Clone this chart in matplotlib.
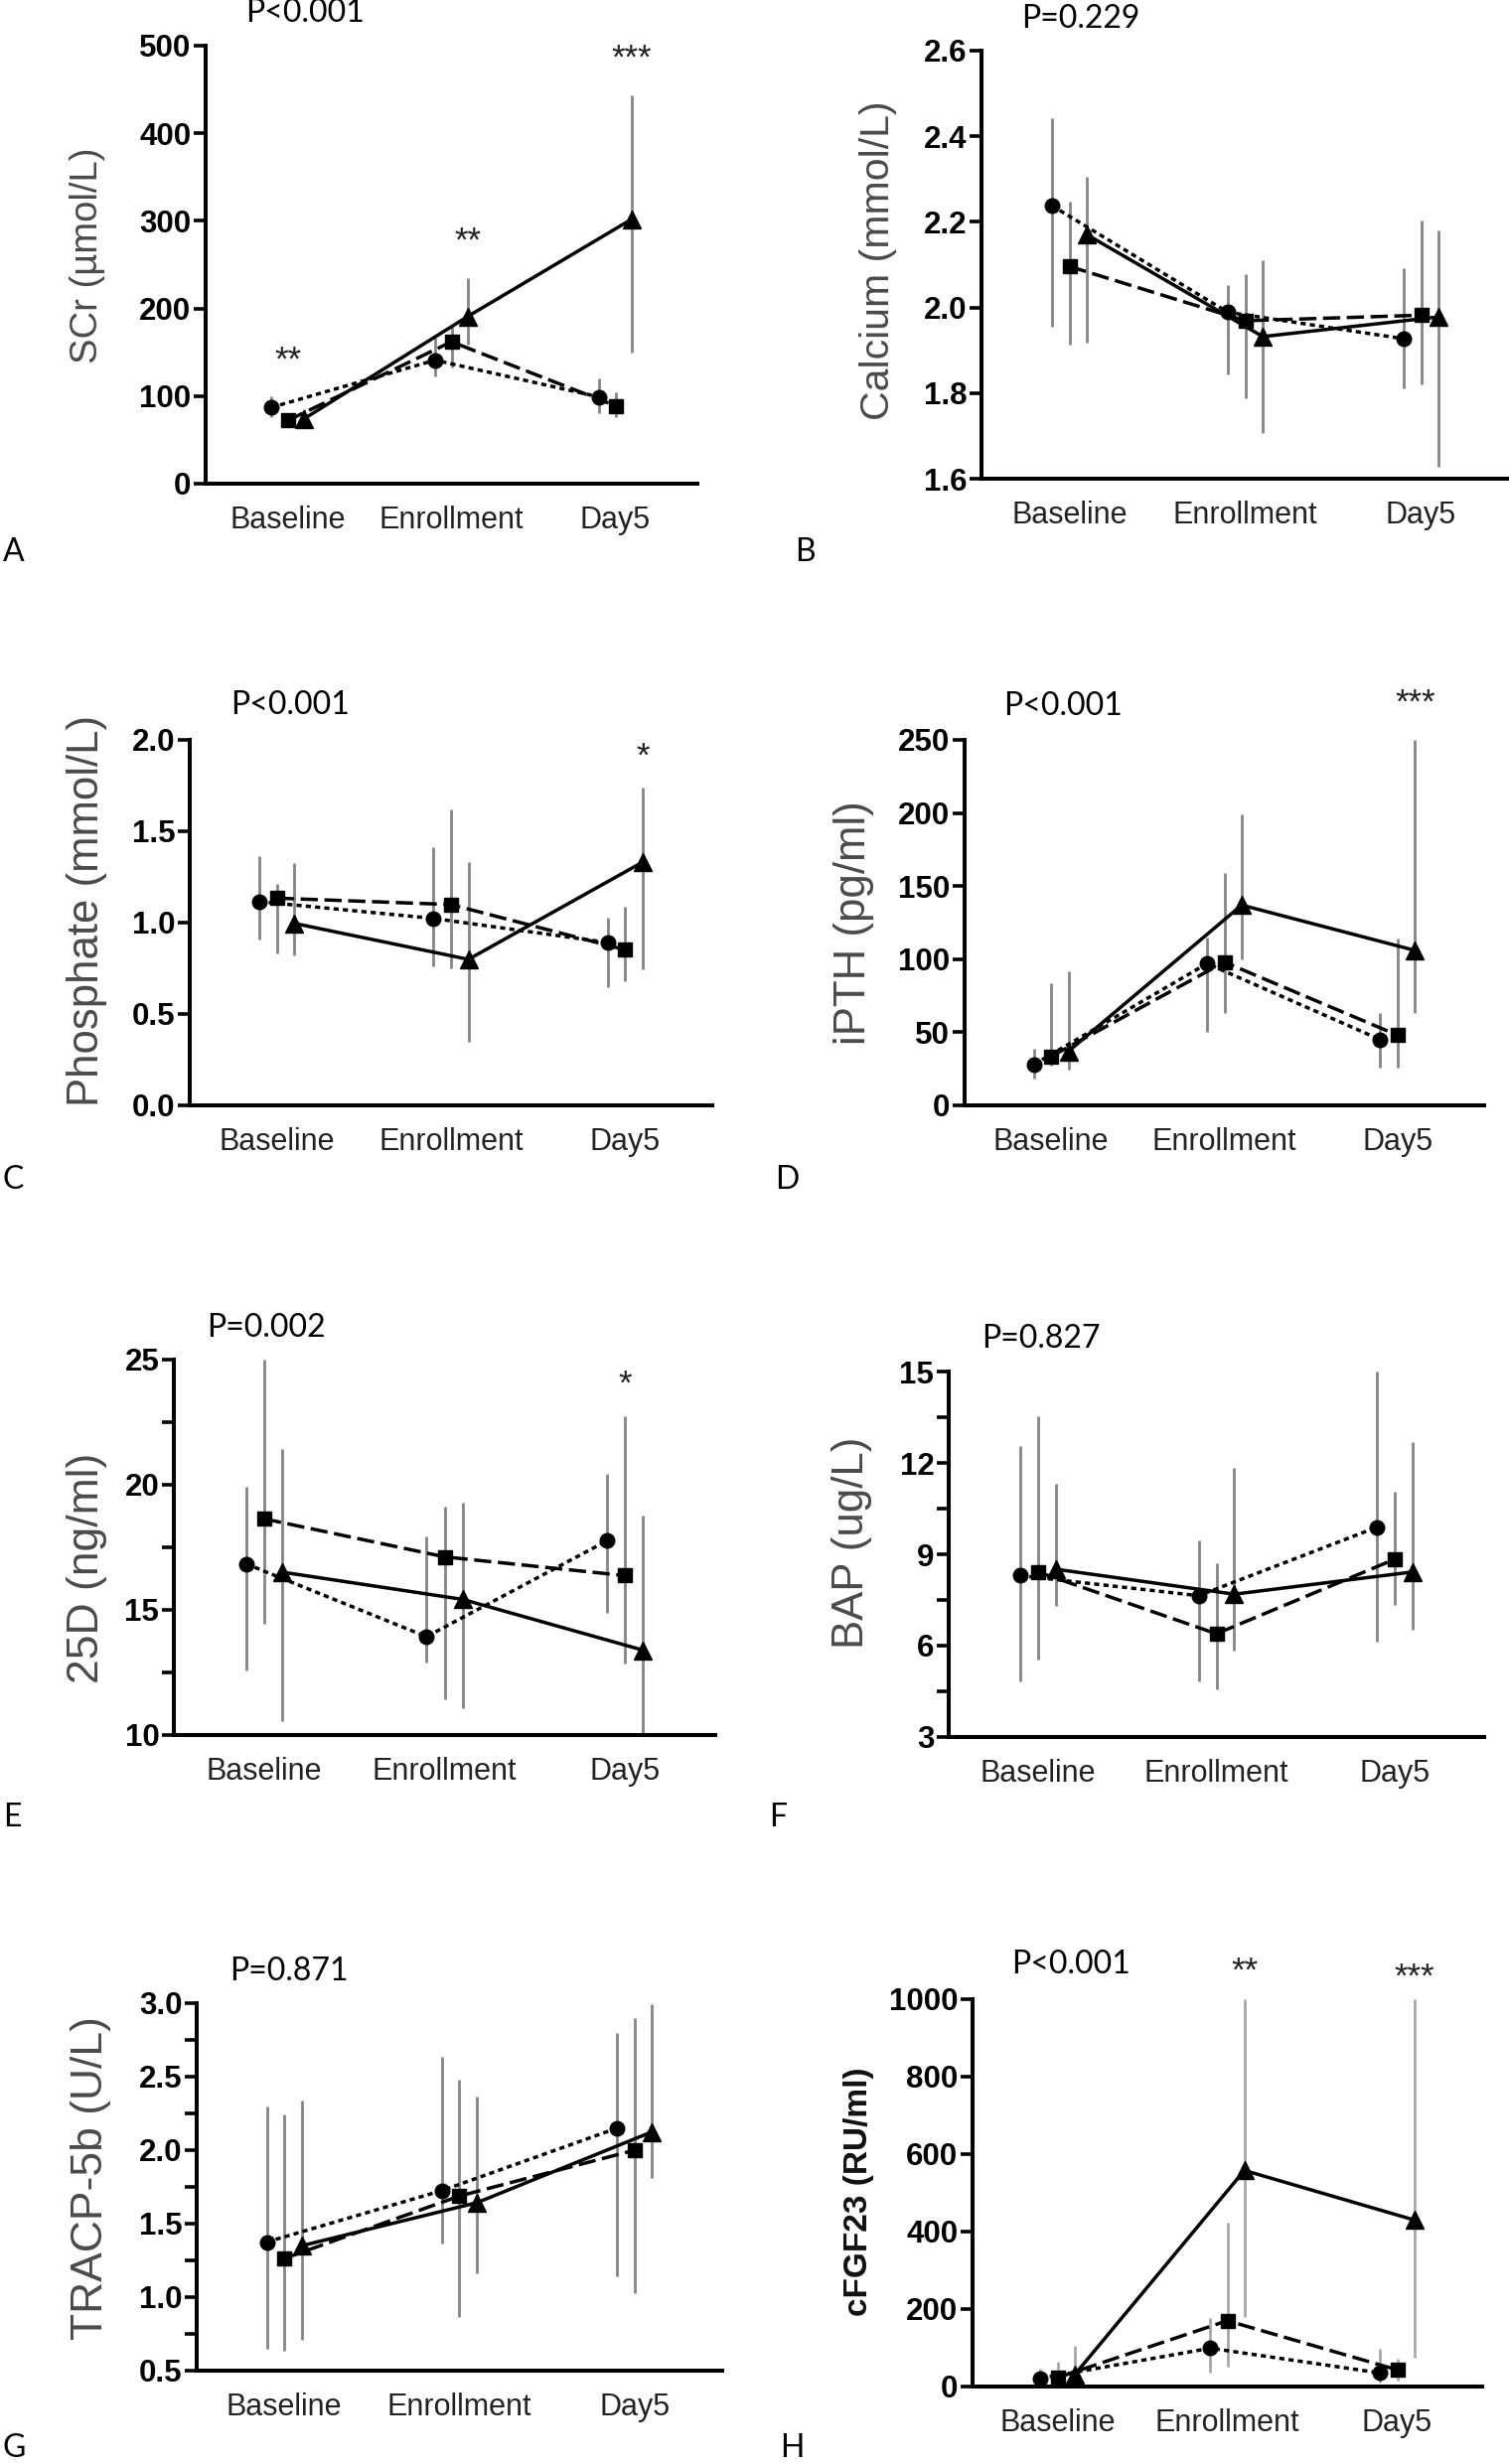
import matplotlib
matplotlib.use("Agg")
import matplotlib.pyplot as plt
from matplotlib.ticker import MultipleLocator, FormatStrFormatter

# ---------------- data ----------------
categories = ["Baseline", "Enrollment", "Day5"]
# series order in each nested list: circle (dotted), square (dashed), triangle (solid)

scr_mean = [[87, 141, 99], [72, 162, 89], [74, 191, 302]]
scr_low = [[76, 122, 80], [65, 133, 76], [67, 159, 150]]
scr_high = [[100, 167, 120], [80, 180, 104], [85, 235, 443]]

ca_mean = [[2.238, 1.989, 1.927], [2.096, 1.969, 1.982], [2.170, 1.932, 1.978]]
ca_low = [[1.954, 1.843, 1.812], [1.914, 1.789, 1.820], [1.918, 1.707, 1.628]]
ca_high = [[2.443, 2.052, 2.092], [2.247, 2.078, 2.203], [2.305, 2.111, 2.180]]

pho_mean = [[1.115, 1.023, 0.891], [1.134, 1.099, 0.851], [0.996, 0.799, 1.331]]
pho_low = [[0.908, 0.761, 0.646], [0.834, 0.751, 0.681], [0.822, 0.350, 0.742]]
pho_high = [[1.363, 1.415, 1.029], [1.214, 1.621, 1.086], [1.325, 1.331, 1.740]]

pth_mean = [[28, 97, 45], [33.5, 98, 48], [37, 137, 106]]
pth_low = [[18.6, 50, 26], [27, 63, 26], [24.6, 100, 63]]
pth_high = [[39, 115, 63], [83.6, 159, 114], [91.5, 199, 250]]

d25_mean = [[16.84, 13.93, 17.76], [18.64, 17.12, 16.37], [16.51, 15.42, 13.39]]
d25_low = [[12.58, 12.90, 14.90], [14.43, 11.41, 12.87], [10.55, 11.09, 10.0]]
d25_high = [[19.92, 17.93, 20.43], [25.0, 19.11, 22.73], [21.42, 19.30, 18.78]]

bap_mean = [[8.30, 7.64, 9.89], [8.42, 6.39, 8.84], [8.51, 7.69, 8.42]]
bap_low = [[4.84, 4.84, 6.12], [5.54, 4.57, 7.35], [7.31, 5.85, 6.51]]
bap_high = [[12.56, 9.47, 15.0], [13.54, 8.72, 11.07], [11.33, 11.83, 12.67]]

tracp_mean = [[1.375, 1.725, 2.15], [1.263, 1.688, 2.0], [1.35, 1.643, 2.125]]
tracp_low = [[0.65, 1.363, 1.143], [0.638, 0.863, 1.025], [0.708, 1.163, 1.808]]
tracp_high = [[2.295, 2.633, 2.795], [2.245, 2.48, 2.9], [2.338, 2.368, 2.993]]

fgf_mean = [[21, 99, 35], [23, 170, 43], [30, 558, 430]]
fgf_low = [[7, 37, 9], [7, 52, 16], [7, 180, 75]]
fgf_high = [[45, 178, 97], [64, 423, 73], [106, 1000, 1000]]

ylabels = ["SCr (µmol/L)", "Calcium (mmol/L)", "Phosphate (mmol/L)", "iPTH (pg/ml)",
           "25D (ng/ml)", "BAP (ug/L)", "TRACP-5b (U/L)", "cFGF23 (RU/ml)"]
pvalues = ["P<0.001", "P=0.229", "P<0.001", "P<0.001",
           "P=0.002", "P=0.827", "P=0.871", "P<0.001"]
panel_letters = ["A", "B", "C", "D", "E", "F", "G", "H"]

# significance stars: (panel index, text, category index, series index, y value)
stars = [
    (0, "**", 0, 1, 141), (0, "**", 1, 2, 276), (0, "***", 2, 2, 485),
    (2, "*", 2, 2, 1.908),
    (3, "***", 2, 2, 275),
    (4, "*", 2, 1, 24.0),
    (7, "**", 1, 2, 1071), (7, "***", 2, 2, 1057),
]

# y-axis settings: (ymin, ymax, major step, minor step or None, format)
yaxes = [
    (0, 500, 100, None, "%d"),
    (1.6, 2.6, 0.2, None, "%.1f"),
    (0, 2.0, 0.5, None, "%.1f"),
    (0, 250, 50, None, "%d"),
    (10, 25, 5, 2.5, "%d"),
    (3, 15, 3, 1.5, "%d"),
    (0.5, 3.0, 0.5, 0.25, "%.1f"),
    (0, 1000, 200, None, "%d"),
]

panels_data = [
    (scr_mean, scr_low, scr_high),
    (ca_mean, ca_low, ca_high),
    (pho_mean, pho_low, pho_high),
    (pth_mean, pth_low, pth_high),
    (d25_mean, d25_low, d25_high),
    (bap_mean, bap_low, bap_high),
    (tracp_mean, tracp_low, tracp_high),
    (fgf_mean, fgf_low, fgf_high),
]

# ---------------- layout (pixels in 1519x2481 canvas) ----------------
W, H = 1519, 2481
# axes box: left, right, top, bottom
boxes = [
    (207, 702, 46, 487), (988, 1519, 51, 482),
    (191, 717, 745, 1113), (971, 1494, 745, 1113),
    (175, 720, 1369, 1747), (955, 1494, 1381, 1749),
    (198, 727, 2017, 2387), (979, 1492, 2013, 2403),
]
ylabel_pos = [(88, 257), (884, 262), (88, 917), (859, 929),
              (87, 1579), (858, 1553), (92, 2193), (864, 2207)]
ylabel_size = [27.5, 29.5, 31.5, 31.5, 32, 31.5, 32, 24]
p_pos = [(307, 13), (1088, 19), (292, 710), (1070, 711),
         (268, 1337), (1048, 1348), (291, 1985), (1078, 1978)]
letter_pos = [(3, 556), (800, 556), (3, 1188), (780, 1188),
              (3, 1830), (774, 1830), (3, 2465), (785, 2465)]

offsets = [-0.1, 0.0, 0.1]
markers = ["o", "s", "^"]
msizes = [10.5, 10, 13]
linestyles = [(0, (1.5, 1.2)), (0, (5.0, 1.9)), "-"]

fig = plt.figure(figsize=(W / 100, H / 100), dpi=100)
fig.patch.set_facecolor("white")

for i in range(8):
    L, R, T, B = boxes[i]
    ax = fig.add_axes([L / W, 1 - B / H, (R - L) / W, (B - T) / H])
    mean, low, high = panels_data[i]
    ecolor = "#a8a8a8" if i == 7 else "#858585"
    for s in range(3):
        xs = [c + offsets[s] for c in range(len(categories))]
        ax.vlines(xs, low[s], high[s], colors=ecolor, linewidth=2.0, zorder=1)
        ax.plot(xs, mean[s], color="black", linewidth=2.5, linestyle=linestyles[s],
                zorder=2, solid_capstyle="butt", dash_capstyle="butt")
        ax.plot(xs, mean[s], linestyle="none", marker=markers[s], markersize=msizes[s],
                color="black", zorder=3, clip_on=False)

    ymin, ymax, step, minor, fmt = yaxes[i]
    ax.set_ylim(ymin, ymax)
    ax.set_xlim(-0.5, 2.5)
    ax.yaxis.set_major_locator(MultipleLocator(step))
    ax.yaxis.set_major_formatter(FormatStrFormatter(fmt))
    if minor:
        ax.yaxis.set_minor_locator(MultipleLocator(minor))
        ax.tick_params(axis="y", which="minor", length=8.6, width=2.6, direction="out")
    ax.set_xticks(range(len(categories)))
    ax.set_xticklabels(categories, fontsize=22, color="#222222", family="Liberation Sans")
    ax.tick_params(axis="x", length=0, pad=16)
    ax.tick_params(axis="y", which="major", length=8.6, width=2.6, direction="out",
                   labelsize=22.5, pad=2)
    for lab in ax.get_yticklabels():
        lab.set_fontweight("bold")
        lab.set_family("Liberation Sans")
    for sp in ["top", "right"]:
        ax.spines[sp].set_visible(False)
    for sp in ["left", "bottom"]:
        ax.spines[sp].set_linewidth(2.9)
    ax.set_facecolor("none")

    # stars
    for (pi, txt, ci, si, yv) in stars:
        if pi == i:
            ax.text(ci + offsets[si], yv, txt, ha="center", va="center", fontsize=25,
                    family="Liberation Sans", color="#222222", clip_on=False)

    # y label
    lx, ly = ylabel_pos[i]
    fig.text(lx / W, 1 - ly / H, ylabels[i], rotation=90, ha="center", va="center",
             fontsize=ylabel_size[i], family="Liberation Sans",
             color="#111111" if i == 7 else "#4a4a4a",
             fontweight="bold" if i == 7 else "normal")
    # P value
    px, py = p_pos[i]
    fig.text(px / W, 1 - py / H, pvalues[i], ha="center", va="center", fontsize=23,
             family="Lato", color="black")
    # panel letter
    tx, ty = letter_pos[i]
    fig.text(tx / W, 1 - ty / H, panel_letters[i], ha="left", va="center", fontsize=23,
             family="Lato", color="black")

fig.savefig("out.png", dpi=100, facecolor="white")
